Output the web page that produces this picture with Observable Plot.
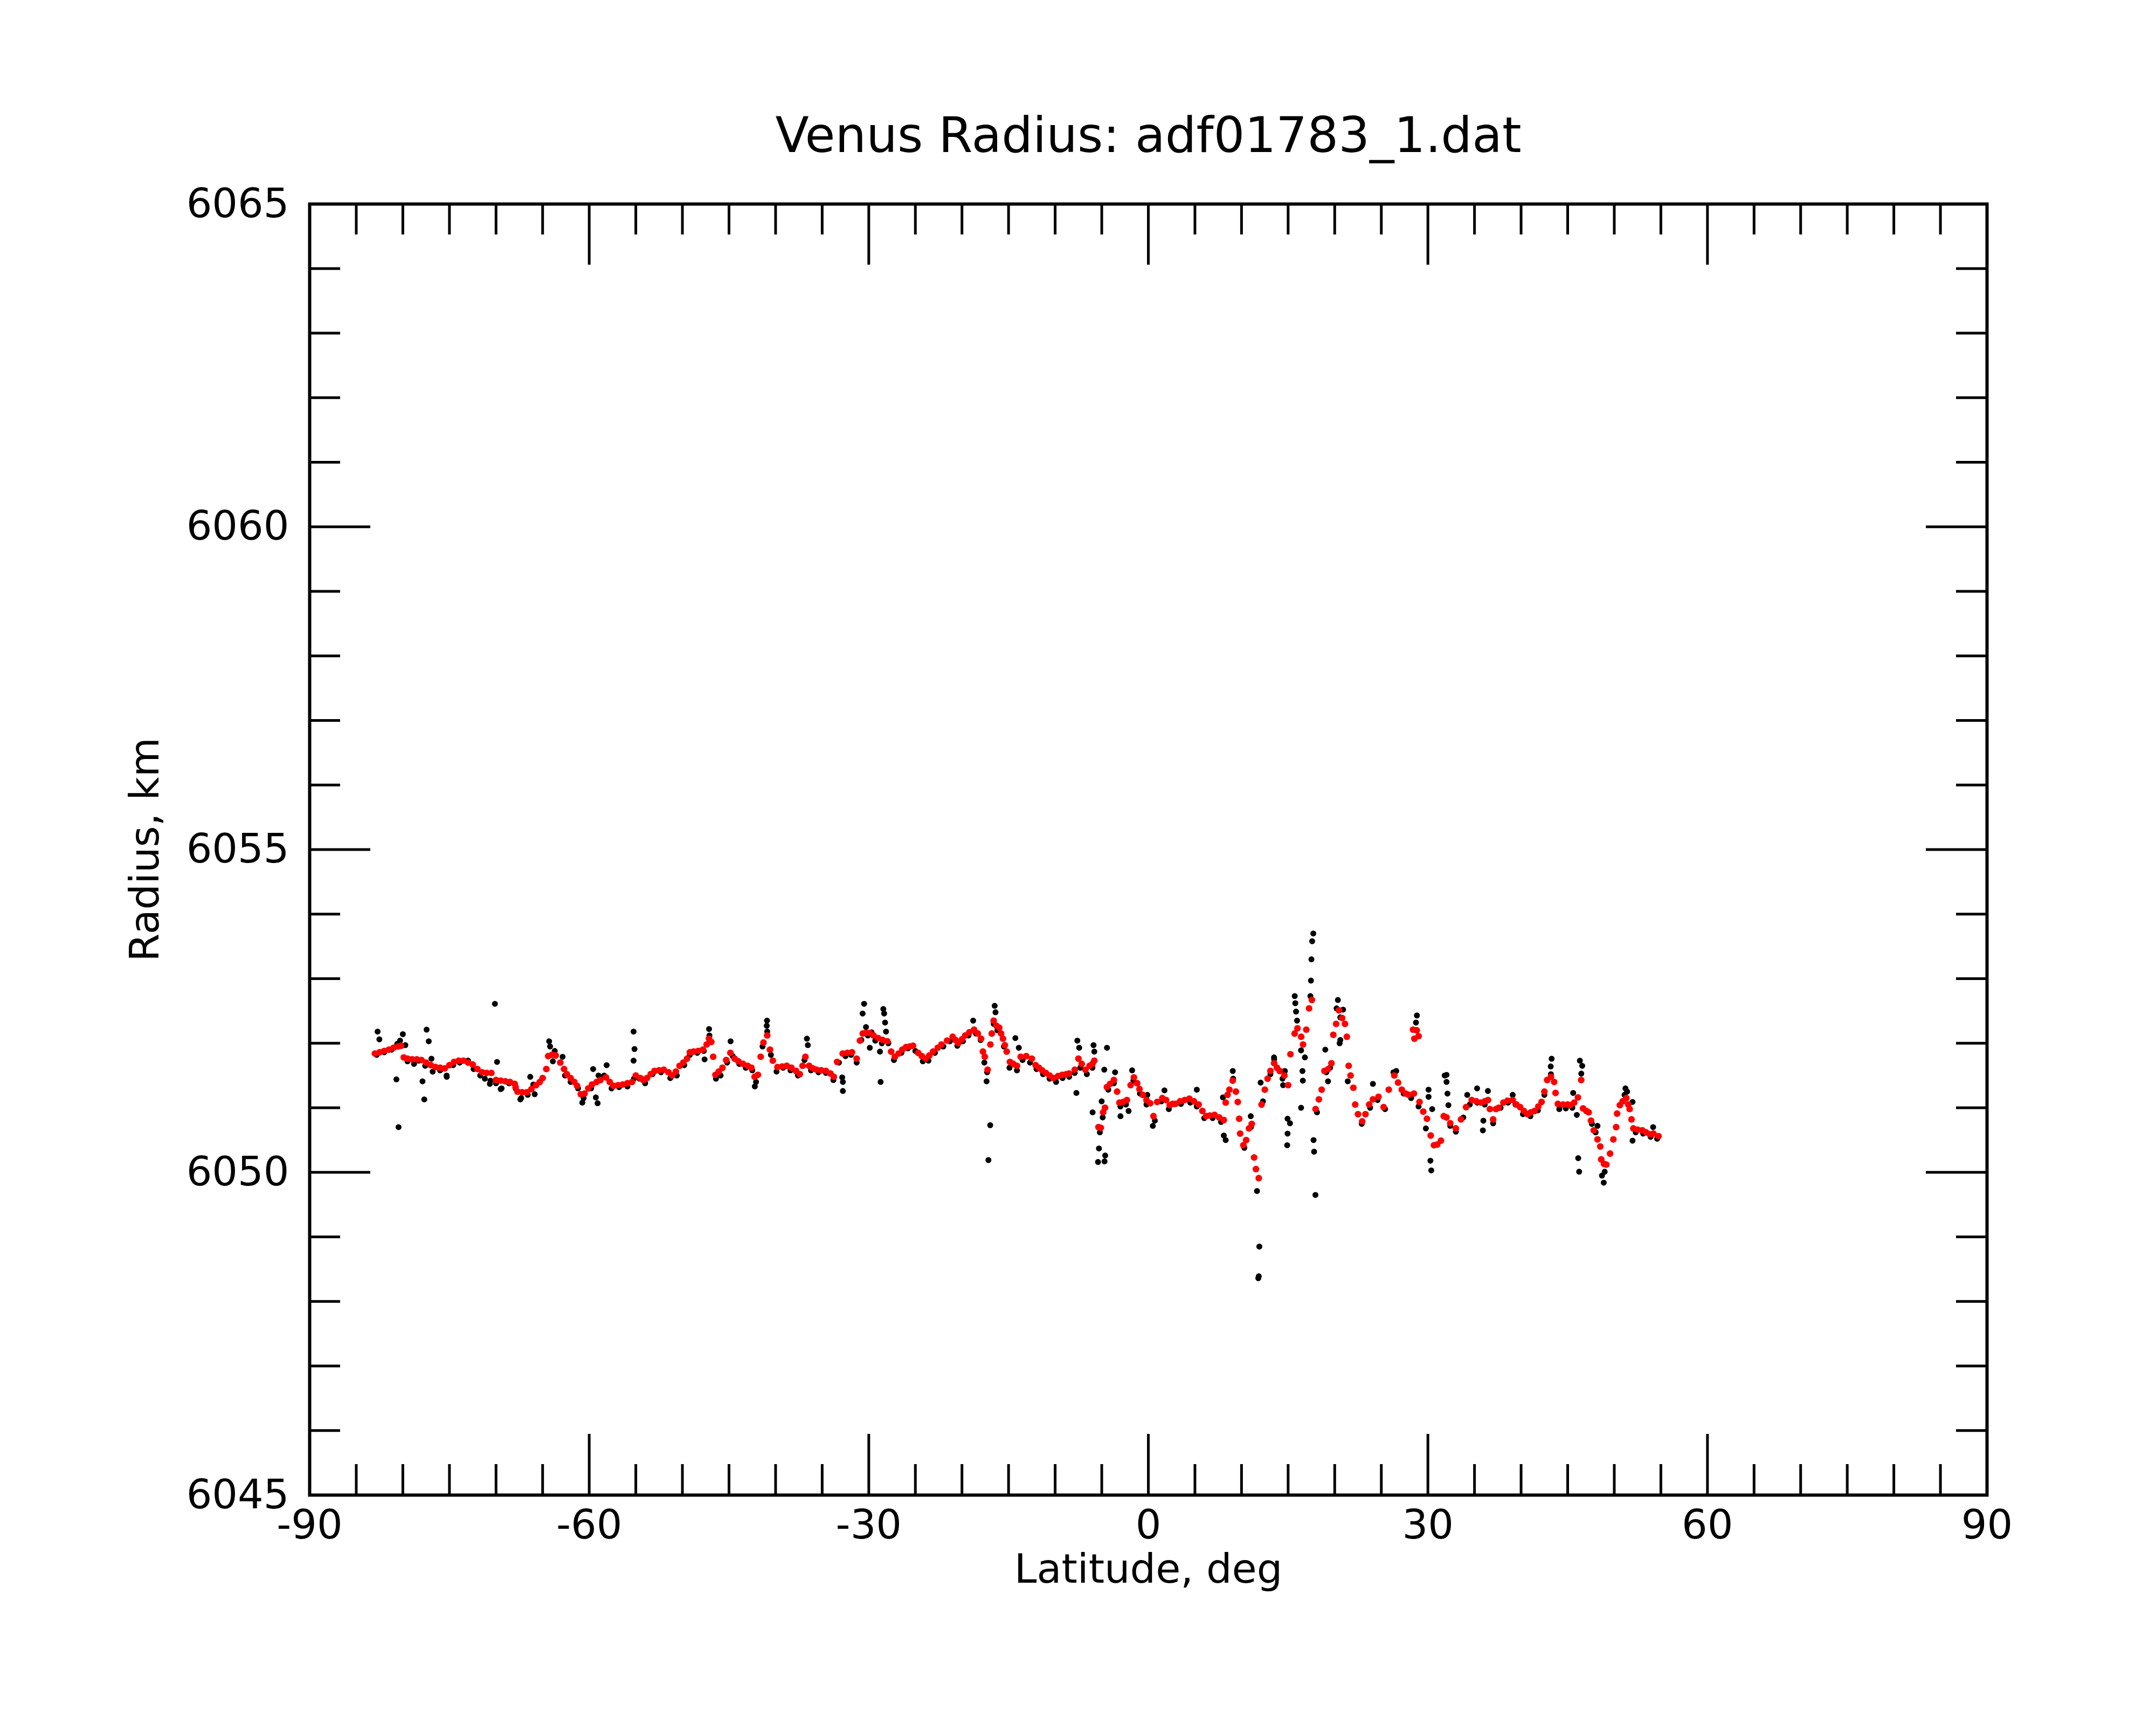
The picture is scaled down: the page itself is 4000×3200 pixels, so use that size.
<!DOCTYPE html>
<html>
<head>
<meta charset="utf-8">
<script src="https://cdn.jsdelivr.net/npm/d3@7"></script>
<script src="https://cdn.jsdelivr.net/npm/@observablehq/plot@0.6"></script>
<style>
  html, body { margin: 0; padding: 0; background: #ffffff; }
  #chart svg { display: block; }
</style>
</head>
<body>
<div id="chart"></div>
<script>
// ---- texts ----
const titleText = "Venus Radius: adf01783_1.dat";
const xLabelText = "Latitude, deg";
const yLabelText = "Radius, km";

// ---- ticks ----
const xMajorTicks = [-90, -60, -30, 0, 30, 60, 90];
const xTickLabels = ["-90", "-60", "-30", "0", "30", "60", "90"];
const xMinorTicks = [-85, -80, -75, -70, -65, -55, -50, -45, -40, -35, -25, -20, -15, -10, -5,
  5, 10, 15, 20, 25, 35, 40, 45, 50, 55, 65, 70, 75, 80, 85];
const yMajorTicks = [6045, 6050, 6055, 6060, 6065];
const yTickLabels = ["6045", "6050", "6055", "6060", "6065"];
const yMinorTicks = [6046, 6047, 6048, 6049, 6051, 6052, 6053, 6054, 6056, 6057, 6058, 6059,
  6061, 6062, 6063, 6064];

// ---- smoothed radius (red) : [latitude, radius] ----
const smoothed = [
  [-83.0,6051.84],[-82.5,6051.86],[-82.0,6051.88],[-81.5,6051.90],[-81.0,6051.93],[-80.5,6051.95],[-80.2,6051.96],
  [-79.9,6051.78],[-79.5,6051.76],[-79.0,6051.75],[-78.5,6051.75],[-78.0,6051.74],[-77.5,6051.70],[-77.0,6051.66],
  [-76.5,6051.63],[-76.0,6051.62],[-75.5,6051.61],[-75.0,6051.66],[-74.5,6051.71],[-74.0,6051.73],[-73.5,6051.73],
  [-73.0,6051.70],[-72.5,6051.67],[-72.0,6051.60],[-71.5,6051.55],[-71.0,6051.54],[-70.5,6051.54],[-70.0,6051.43],
  [-69.5,6051.42],[-69.0,6051.41],[-68.5,6051.40],[-68.0,6051.37],[-67.9,6051.32],[-67.7,6051.25],[-67.2,6051.24],
  [-66.7,6051.24],[-66.2,6051.29],[-65.7,6051.35],[-65.3,6051.40],[-65.0,6051.46],[-64.6,6051.60],[-64.4,6051.80],
  [-64.0,6051.82],[-63.6,6051.81],[-63.1,6051.70],[-62.7,6051.60],[-62.4,6051.52],[-62.0,6051.46],[-61.6,6051.40],
  [-61.3,6051.34],[-60.9,6051.21],[-60.5,6051.22],[-60.1,6051.30],[-59.7,6051.36],[-59.2,6051.40],[-58.8,6051.43],
  [-58.2,6051.47],[-57.8,6051.40],[-57.4,6051.34],[-56.9,6051.35],[-56.4,6051.36],[-55.9,6051.38],[-55.4,6051.40],
  [-55.0,6051.50],
  [-54.5,6051.46],[-54.2,6051.43],[-53.8,6051.46],[-53.4,6051.52],[-53.0,6051.57],[-52.5,6051.58],[-52.0,6051.59],
  [-51.5,6051.55],[-51.1,6051.50],[-50.7,6051.56],[-50.3,6051.65],[-49.9,6051.70],[-49.5,6051.76],[-49.2,6051.86],
  [-48.8,6051.87],[-48.3,6051.88],[-47.8,6051.90],[-47.4,6051.98],[-47.15,6052.07],[-46.9,6052.02],[-46.7,6051.79],
  [-46.45,6051.51],[-46.1,6051.56],[-45.7,6051.62],[-45.3,6051.74],[-44.85,6051.85],[-44.4,6051.76],[-44.0,6051.72],
  [-43.5,6051.68],[-43.0,6051.65],[-42.6,6051.62],[-42.25,6051.48],[-41.9,6051.51],[-41.6,6051.79],[-41.3,6052.01],
  [-40.9,6052.12],[-40.6,6051.90],[-40.3,6051.73],[-39.8,6051.63],[-39.3,6051.64],[-38.8,6051.65],[-38.3,6051.62],
  [-37.8,6051.57],[-37.4,6051.52],[-37.1,6051.65],[-36.8,6051.79],[-36.4,6051.65],[-36.0,6051.61],[-35.6,6051.59],
  [-35.1,6051.58],[-34.6,6051.57],[-34.1,6051.53],[-33.75,6051.48],[-33.4,6051.71],[-32.8,6051.84],[-32.3,6051.85],
  [-31.8,6051.86],[-31.3,6051.76],[-30.95,6052.04],[-30.65,6052.15],[-30.3,6052.16],[-29.9,6052.16],[-29.5,6052.12],
  [-29.0,6052.08],[-28.5,6052.05],[-28.0,6052.03],[-27.6,6051.87],[-27.2,6051.79],[-26.8,6051.84],[-26.4,6051.90],
  [-26.0,6051.94],
  [-25.6,6051.95],[-25.25,6051.96],[-24.7,6051.85],[-24.3,6051.80],[-23.9,6051.76],[-23.5,6051.81],[-23.1,6051.87],
  [-22.6,6051.93],[-22.2,6051.98],[-21.6,6052.04],[-21.0,6052.10],[-20.7,6052.05],[-20.4,6052.00],[-20.0,6052.06],
  [-19.65,6052.12],[-19.2,6052.17],[-18.7,6052.21],[-18.3,6052.15],[-17.95,6052.07],[-17.75,6051.87],[-17.55,6051.79],
  [-17.25,6051.59],[-16.95,6051.98],[-16.8,6052.15],[-16.6,6052.35],[-16.3,6052.27],[-16.0,6052.24],[-15.8,6052.15],
  [-15.6,6052.07],[-15.4,6051.97],[-15.2,6051.87],[-14.85,6051.71],[-14.5,6051.68],[-14.1,6051.65],[-13.7,6051.79],
  [-13.1,6051.80],[-12.5,6051.76],[-12.1,6051.66],[-11.75,6051.62],[-11.4,6051.58],[-11.0,6051.54],[-10.6,6051.50],
  [-10.2,6051.46],[-9.7,6051.49],[-9.25,6051.51],[-8.8,6051.52],[-8.5,6051.53],[-7.9,6051.59],[-7.5,6051.76],
  [-7.15,6051.68],[-6.75,6051.59],[-6.3,6051.65],[-6.0,6051.68],[-5.8,6051.73],[-5.35,6050.70],[-5.1,6050.69],
  [-4.85,6050.93],[-4.65,6051.00],[-4.45,6051.32],[-4.1,6051.37],[-3.7,6051.43],[-3.35,6051.25],[-3.1,6051.08],
  [-2.7,6051.09],[-2.3,6051.12],[-1.9,6051.35],[-1.55,6051.47],[-1.2,6051.38],[-0.95,6051.29],[-0.6,6051.20],
  [-0.2,6051.12],[0.2,6051.07],[0.55,6050.87],[0.95,6051.09],[1.5,6051.15],[1.9,6051.12],[2.3,6051.04],[2.6,6051.06],
  [2.9,6051.06],[3.4,6051.10],[3.9,6051.12],[4.4,6051.14],[4.9,6051.10],[5.4,6051.05],[5.8,6050.95],[6.2,6050.87],
  [6.6,6050.88],[7.1,6050.89],[7.6,6050.85],[8.1,6050.81],[8.3,6051.08],[8.5,6051.20],[8.7,6051.28],[9.05,6051.42],
  [9.4,6051.25],[9.6,6051.09],[9.75,6050.83],[9.85,6050.60],[10.2,6050.42],[10.5,6050.50],[10.8,6050.68],[11.1,6050.75],
  [11.35,6050.23],[11.55,6050.05],[11.85,6049.91],[12.15,6051.05],[12.5,6051.28],[12.8,6051.45],[13.1,6051.57],
  [13.5,6051.69],[13.8,6051.62],[14.1,6051.57],[14.6,6051.50],[15.0,6051.35],[15.25,6051.83],[15.7,6052.15],
  [16.0,6052.23],[16.4,6052.10],[16.6,6051.98],[16.95,6052.21],[17.25,6052.54],[17.55,6052.67],[17.95,6050.98],
  [18.3,6051.13],[18.6,6051.28],[18.9,6051.57],[19.3,6051.60],[19.65,6051.69],[19.85,6052.13],[20.15,6052.30],
  [20.45,6052.51],[20.8,6052.39],[21.1,6052.30],[21.3,6052.10],[21.5,6051.65],[21.7,6051.50],[22.0,6051.31],
  [22.2,6051.05],[22.5,6050.90],[22.95,6050.79],[23.3,6050.90],[23.7,6051.05],[24.1,6051.13],[24.7,6051.17],
  [25.25,6051.01],[25.8,6051.28],[26.4,6051.50],[26.8,6051.39],[27.2,6051.28],[27.6,6051.22],[27.95,6051.20],
  [28.4,6052.21],[28.55,6052.07],[28.8,6052.20],[29.0,6052.11],
  [28.5,6051.22],[29.1,6051.09],[29.5,6050.94],[29.9,6050.83],[30.3,6050.57],[30.65,6050.42],[31.0,6050.43],
  [31.4,6050.49],[31.7,6050.87],
  [32.0,6050.85],[32.4,6050.76],[33.0,6050.68],[33.55,6050.82],[34.1,6051.01],[34.7,6051.12],[35.2,6051.10],
  [35.7,6051.08],[36.1,6051.10],[36.45,6051.12],[36.65,6050.98],[37.0,6050.82],[37.3,6050.98],[37.6,6051.00],
  [38.1,6051.08],[38.55,6051.11],[39.1,6051.12],[39.5,6051.05],[39.9,6051.01],[40.3,6050.95],[40.7,6050.90],
  [41.05,6050.93],[41.45,6050.95],[41.85,6051.02],[42.2,6051.09],[42.5,6051.25],[42.8,6051.43],[43.2,6051.48],
  [43.55,6051.40],[43.7,6051.23],[43.95,6051.06],[44.5,6051.05],[45.0,6051.05],[45.3,6051.04],[45.7,6051.08],
  [46.1,6051.16],[46.45,6051.43],[46.65,6050.99],[47.0,6050.95],[47.25,6050.93],[47.5,6050.80],[47.8,6050.65],
  [48.2,6050.51],[48.5,6050.40],[48.6,6050.20],[48.9,6050.13],[49.15,6050.12],[49.55,6050.29],[49.9,6050.51],
  [50.2,6050.70],[50.3,6050.91],[50.6,6051.04],[50.9,6051.10],[51.3,6051.15],[51.5,6051.05],[51.65,6050.98],
  [51.85,6050.82],[52.05,6050.68],[52.5,6050.66],[53.0,6050.65],[53.4,6050.62],[53.8,6050.59],[54.2,6050.60],
  [54.75,6050.56]
];

// ---- raw radius (black) along the track : [latitude, radius] ----
const rawTrack = [
  [-82.8,6051.82],[-82.0,6051.86],[-81.2,6051.90],[-80.6,6051.99],[-80.3,6052.04],[-79.5,6051.72],[-78.8,6051.68],
  [-78.3,6051.73],[-77.6,6051.65],[-76.8,6051.56],[-76.0,6051.58],[-75.3,6051.50],[-74.6,6051.66],[-73.9,6051.70],
  [-73.0,6051.73],[-72.4,6051.60],[-71.7,6051.50],[-71.2,6051.45],[-70.6,6051.42],[-70.0,6051.38],[-69.4,6051.30],
  [-68.6,6051.38],[-67.9,6051.30],[-67.3,6051.15],[-66.6,6051.20],[-66.0,6051.36],[-65.3,6051.40],[-64.2,6051.95],
  [-63.7,6051.88],[-62.6,6051.50],[-62.0,6051.40],[-61.2,6051.30],[-60.6,6051.15],[-59.8,6051.30],[-59.0,6051.50],
  [-58.4,6051.50],[-57.6,6051.30],[-56.8,6051.32],[-55.9,6051.33],[-55.2,6051.45],
  [-54.6,6051.45],[-54.0,6051.38],[-53.2,6051.52],[-52.3,6051.55],[-51.3,6051.46],[-50.6,6051.50],[-49.8,6051.66],
  [-49.2,6051.82],[-48.4,6051.85],[-47.7,6051.88],[-47.1,6052.12],[-46.4,6051.45],[-45.9,6051.50],[-45.2,6051.70],
  [-44.6,6051.80],[-43.9,6051.68],[-43.2,6051.62],[-42.5,6051.58],[-42.1,6051.40],[-41.4,6051.95],[-40.9,6052.18],
  [-40.5,6051.82],[-39.9,6051.56],[-39.2,6051.62],[-38.4,6051.58],[-37.6,6051.50],[-36.9,6051.74],[-36.2,6051.58],
  [-35.4,6051.55],[-34.6,6051.54],[-33.8,6051.43],[-33.2,6051.70],[-32.5,6051.80],[-31.9,6051.82],[-31.3,6051.70],
  [-30.8,6052.05],[-30.1,6052.12],[-29.3,6052.04],[-28.6,6052.00],[-27.9,6052.00],[-27.3,6051.74],[-26.5,6051.85],
  [-25.8,6051.92],[-25.0,6051.88],[-24.2,6051.72],[-23.6,6051.73],[-22.9,6051.85],[-22.0,6051.95],[-21.3,6052.03],
  [-20.5,6051.96],[-19.9,6052.03],[-19.3,6052.12],[-18.5,6052.15],[-18.0,6052.05],[-17.6,6051.70],[-17.3,6051.55],
  [-16.6,6052.30],[-16.2,6052.20],[-15.5,6051.95],[-14.9,6051.62],[-14.1,6051.58],[-13.5,6051.74],[-12.7,6051.70],
  [-12.0,6051.60],[-11.3,6051.52],[-10.6,6051.45],[-9.9,6051.40],[-9.2,6051.46],[-8.5,6051.48],[-7.9,6051.54],
  [-7.3,6051.62],[-6.6,6051.52],[-6.0,6051.62],[-4.3,6051.28],[-3.7,6051.38],[-3.0,6051.02],[-2.4,6051.05],
  [-1.6,6051.42],[-0.9,6051.22],[-0.2,6051.05],[0.7,6050.80],[1.4,6051.10],[2.2,6050.98],
  [3.5,6051.06],[4.5,6051.08],[5.2,6051.02],[6.0,6050.84],[6.9,6050.84],[7.8,6050.78],[8.5,6051.20],[9.1,6051.45],
  [10.3,6050.38],[11.0,6050.70],[12.3,6051.10],[13.1,6051.52],[13.5,6051.75],[14.4,6051.45],[19.1,6051.55],
  [19.5,6051.62],[20.6,6052.40],[22.9,6050.75],[23.8,6051.00],[24.6,6051.12],[25.4,6050.98],[26.3,6051.55],
  [27.4,6051.22],[28.2,6051.15],[29.0,6051.02],
  [32.4,6050.72],[33.0,6050.63],[33.8,6050.85],[34.5,6051.05],[35.3,6051.08],[36.1,6051.05],[37.0,6050.76],
  [37.8,6051.00],[38.6,6051.08],[39.4,6051.05],[40.2,6050.90],[41.0,6050.87],[41.8,6050.96],[42.5,6051.20],
  [43.2,6051.52],[44.1,6050.98],[44.8,6050.99],[45.5,6051.00],[47.6,6050.75],[48.0,6050.62],[51.1,6051.20],
  [52.3,6050.62],[53.1,6050.60],[53.9,6050.55],[54.6,6050.52]
];

// ---- raw radius (black) scattered away from the track : [latitude, radius] ----
const rawScatter = [
  [-82.71,6052.18],[-82.52,6052.06],[-80.0,6052.14],[-79.73,6051.97],[-80.69,6051.44],[-80.46,6050.70],
  [-77.45,6052.21],[-77.22,6052.03],[-77.89,6051.41],[-77.70,6051.13],[-70.12,6052.61],[-69.89,6051.71],
  [-76.93,6051.76],[-75.29,6051.48],[-64.3,6052.03],[-62.86,6051.79],[-66.33,6051.48],[-65.85,6051.21],
  [-59.58,6051.60],[-59.29,6051.16],[-59.1,6051.07],[-58.13,6051.66],[-55.24,6052.18],[-55.14,6051.91],
  [-55.24,6051.73],[-67.39,6051.13],[-60.74,6051.08],[-69.5,6051.29],[-70.66,6051.37],[-63.9,6051.72],
  [-47.14,6052.22],[-47.62,6051.75],[-44.83,6052.03],[-40.92,6052.35],[-40.95,6052.27],[-42.23,6051.33],
  [-36.64,6052.07],[-36.54,6051.97],[-32.78,6051.40],[-32.78,6051.26],[-32.85,6051.47],[-30.5,6052.61],
  [-30.66,6052.46],[-30.3,6052.25],[-28.44,6052.53],[-28.35,6052.46],[-28.25,6052.32],[-28.15,6052.18],
  [-28.73,6051.40],[-29.89,6051.93],[-28.8,6051.87],[-29.7,6052.17],
  [-16.49,6052.58],[-16.4,6052.48],[-16.97,6050.73],[-17.16,6050.19],[-17.36,6051.41],[-18.80,6052.35],
  [-14.27,6052.08],[-13.9,6051.93],[-7.62,6052.04],[-7.42,6051.93],[-7.72,6051.23],[-5.88,6051.97],
  [-5.8,6051.87],[-4.44,6051.93],[-4.73,6051.59],[-3.57,6051.55],[-5.01,6051.10],[-5.98,6050.93],
  [-5.30,6050.37],[-4.63,6050.26],[-5.40,6050.16],[-4.7,6050.17],[-2.12,6050.95],[-2.99,6050.87],
  [0.48,6050.72],[-1.74,6051.58],[-0.11,6051.20],[1.73,6051.27],[-5.2,6050.62],[-4.9,6050.85],
  [5.2,6051.28],[8.0,6051.16],[8.1,6050.57],[8.3,6050.50],[9.06,6051.57],[10.99,6050.87],[11.66,6049.71],
  [11.91,6048.85],[11.85,6048.39],[11.8,6048.36],[12.05,6051.39],[13.49,6051.78],[14.46,6051.35],
  [14.65,6051.57],[14.94,6050.83],[15.2,6050.76],[14.94,6050.60],[14.9,6050.42],[15.71,6052.73],
  [15.77,6052.62],[15.85,6052.49],[15.96,6052.35],[16.39,6051.89],[16.54,6051.57],[16.58,6051.42],
  [16.39,6051.0],[17.70,6053.70],[17.58,6053.58],[17.50,6053.30],[17.45,6052.97],[17.39,6052.73],
  [17.73,6050.50],[17.79,6050.32],[17.93,6049.65],[18.99,6051.90],[19.28,6051.41],[20.34,6052.67],
  [20.2,6052.54],[20.9,6052.52],[20.53,6052.0],[21.40,6051.41],[28.82,6052.43],[28.72,6052.32],
  [24.10,6051.37],[26.60,6051.57],[30.07,6051.28],[30.07,6051.17],[30.46,6050.98],[29.78,6050.68],
  [30.27,6050.18],[30.36,6050.03],[31.8,6051.50],[16.8,6051.78],[20.6,6052.05],[18.1,6050.93],
  [32.0,6051.51],[32.0,6051.40],[32.1,6051.22],[32.2,6051.04],[34.22,6051.20],[35.28,6051.30],
  [36.44,6051.26],[35.95,6050.80],[35.90,6050.65],[39.10,6051.20],[43.28,6051.76],[43.18,6051.64],
  [46.31,6051.73],[46.56,6051.65],[46.46,6051.53],[45.59,6051.23],[45.98,6050.89],[46.13,6050.22],
  [46.23,6050.01],[48.20,6050.72],[48.97,6050.01],[48.68,6049.95],[48.87,6049.84],[51.38,6051.25],
  [51.96,6051.09],[51.96,6050.49],[54.17,6050.70],[51.2,6051.30]
];

// ---- build tables ----
const redPts = smoothed.map(([lat, r]) => ({lat, r}));
const blackPts = rawTrack.concat(rawScatter).map(([lat, r]) => ({lat, r}));

// layout (pixels)
const W = 4000, H = 3200;
const mL = 574, mR = 314, mT = 378, mB = 427;
const fw = W - mL - mR, fh = H - mT - mB;
const majorLen = 113, minorLen = 57;
const font = "DejaVu Sans";

const chart = Plot.plot({
  width: W,
  height: H,
  marginLeft: mL,
  marginRight: mR,
  marginTop: mT,
  marginBottom: mB,
  x: {domain: [-90, 90]},
  y: {domain: [6045, 6065]},
  style: {fontFamily: font, fontSize: "75px", background: "#ffffff", color: "#000000"},
  marks: [
    // data
    Plot.dot(blackPts, {x: "lat", y: "r", r: 5.5, fill: "#000000", stroke: "none"}),
    Plot.dot(redPts, {x: "lat", y: "r", r: 6.2, fill: "#ff0000", stroke: "none"}),
    // ticks (inward), bottom & top
    Plot.tickX(xMinorTicks, {x: d => d, insetTop: fh - minorLen, stroke: "#000", strokeWidth: 5}),
    Plot.tickX(xMinorTicks, {x: d => d, insetBottom: fh - minorLen, stroke: "#000", strokeWidth: 5}),
    Plot.tickX(xMajorTicks, {x: d => d, insetTop: fh - majorLen, stroke: "#000", strokeWidth: 5}),
    Plot.tickX(xMajorTicks, {x: d => d, insetBottom: fh - majorLen, stroke: "#000", strokeWidth: 5}),
    // ticks (inward), left & right
    Plot.tickY(yMinorTicks, {y: d => d, insetRight: fw - minorLen, stroke: "#000", strokeWidth: 5}),
    Plot.tickY(yMinorTicks, {y: d => d, insetLeft: fw - minorLen, stroke: "#000", strokeWidth: 5}),
    Plot.tickY(yMajorTicks, {y: d => d, insetRight: fw - majorLen, stroke: "#000", strokeWidth: 5}),
    Plot.tickY(yMajorTicks, {y: d => d, insetLeft: fw - majorLen, stroke: "#000", strokeWidth: 5}),
    Plot.frame({stroke: "#000", strokeWidth: 6}),
    // tick labels
    Plot.axisX({anchor: "bottom", ticks: xMajorTicks, tickSize: 0, tickPadding: 27, fontSize: 75,
      tickFormat: d => xTickLabels[xMajorTicks.indexOf(d)], label: null}),
    Plot.axisY({anchor: "left", ticks: yMajorTicks, tickSize: 0, tickPadding: 38, fontSize: 75,
      tickFormat: d => yTickLabels[yMajorTicks.indexOf(d)], label: null}),
    // axis titles and chart title
    Plot.text([xLabelText], {text: d => d, frameAnchor: "bottom", dy: 138, fontSize: 75,
      textAnchor: "middle", lineAnchor: "middle"}),
    Plot.text([yLabelText], {text: d => d, frameAnchor: "left", dx: -305, rotate: -90, fontSize: 75,
      textAnchor: "middle", lineAnchor: "middle"}),
    Plot.text([titleText], {text: d => d, frameAnchor: "top", dy: -126, fontSize: 91,
      textAnchor: "middle", lineAnchor: "middle"})
  ]
});
document.getElementById("chart").appendChild(chart);
</script>
</body>
</html>
